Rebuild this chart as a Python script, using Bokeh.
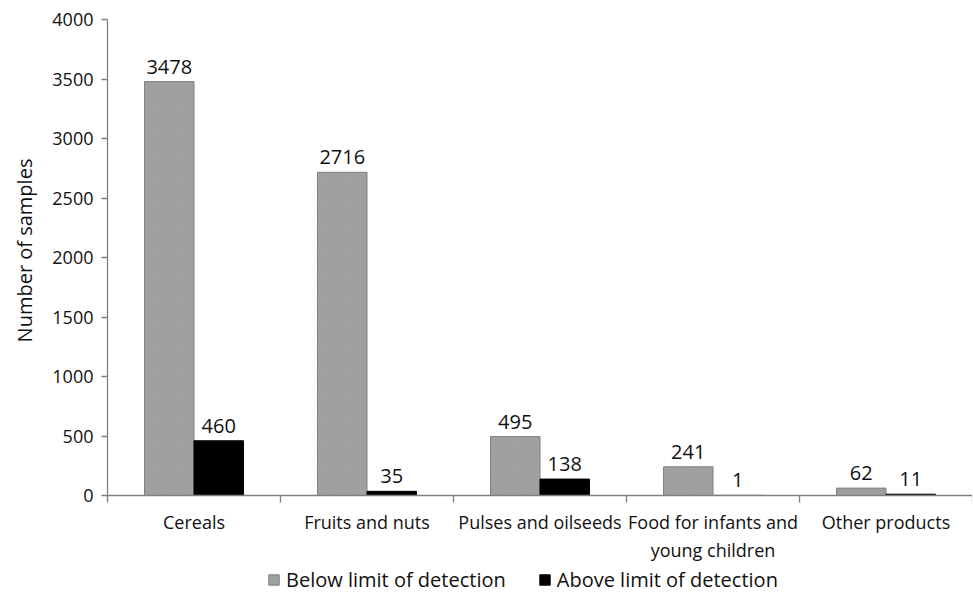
import math
from bokeh.plotting import figure
from bokeh.models import ColumnDataSource, FixedTicker, Legend, LegendItem, Range1d, Label
from bokeh.core.properties import value
from bokeh.embed import file_html
from bokeh.resources import INLINE

categories = ["Cereals", "Fruits and nuts", "Pulses and oilseeds",
              "Food for infants and\nyoung children", "Other products"]
below_lod = [3478, 2716, 495, 241, 62]
above_lod = [460, 35, 138, 1, 11]
series_names = ["Below limit of detection", "Above limit of detection"]
y_ticks = [0, 500, 1000, 1500, 2000, 2500, 3000, 3500, 4000]
y_title = "Number of samples"

FONT = "Open Sans"
W = 0.286
Y_MAX = 4000
N = len(categories)

# layout geometry (pixels)
FIG_W, FIG_H = 972, 593
TOP = 19                           # page y of the value Y_MAX
ZERO_X = 107                       # page x of the category start
ZERO_PX = 495                      # page y of the value 0
px_per_unit_y = (ZERO_PX - TOP) / Y_MAX
y_min = -(FIG_H - ZERO_PX) / px_per_unit_y
y_top = Y_MAX + TOP / px_per_unit_y
px_per_cat = (FIG_W - ZERO_X) / N
x_min = -ZERO_X / px_per_cat

centers = [i + 0.5 for i in range(N)]
src_below = ColumnDataSource(dict(x=[c - W / 2 for c in centers], top=below_lod,
                                  lab=[str(v) for v in below_lod]))
src_above = ColumnDataSource(dict(x=[c + W / 2 for c in centers], top=above_lod,
                                  lab=[str(v) for v in above_lod]))

p = figure(width=FIG_W, height=FIG_H, output_backend="svg", toolbar_location=None,
           x_range=Range1d(x_min, N), y_range=Range1d(y_min, y_top),
           min_border_left=0, min_border_right=0, min_border_top=0,
           min_border_bottom=0)
p.outline_line_color = None
p.xgrid.grid_line_color = None
p.ygrid.grid_line_color = None
p.background_fill_color = "white"
p.border_fill_color = "white"

r1 = p.vbar(x="x", top="top", width=W, bottom=0, source=src_below,
            fill_color="#a6a6a6", line_color="#808080", line_width=1,
            hatch_pattern="\\", hatch_color="#999999", hatch_scale=3, hatch_weight=0.8)
r2 = p.vbar(x="x", top="top", width=W, bottom=0, source=src_above,
            fill_color="#000000", line_color="#000000", line_width=1)

for src in (src_below, src_above):
    p.text(x="x", y="top", text="lab", source=src, text_align="center",
           text_baseline="bottom", y_offset=-8, text_font=value(FONT),
           text_font_size="20px", text_color="#111111")

# x axis drawn at value 0
ax = p.xaxis[0]
ax.fixed_location = 0
ax.bounds = (0, N)
ax.ticker = FixedTicker(ticks=centers, minor_ticks=list(range(N + 1)))
ax.major_label_overrides = {c: lab for c, lab in zip(centers, categories)}
ax.major_tick_line_color = None
ax.major_tick_out = 0
ax.major_tick_in = 0
ax.minor_tick_out = 7
ax.minor_tick_in = 0
ax.minor_tick_line_color = "#808080"
ax.minor_tick_line_width = 1.3
ax.axis_line_color = "#808080"
ax.axis_line_width = 1.3
ax.major_label_text_font = FONT
ax.major_label_text_font_size = "18px"
ax.major_label_text_color = "#111111"
ax.major_label_standoff = 7

# y axis drawn at category start
ay = p.yaxis[0]
ay.fixed_location = 0
ay.bounds = (0, Y_MAX)
ay.ticker = FixedTicker(ticks=y_ticks)
ay.minor_tick_line_color = None
ay.major_tick_out = 6
ay.major_tick_in = 0
ay.major_tick_line_color = "#808080"
ay.major_tick_line_width = 1.3
ay.axis_line_color = "#808080"
ay.axis_line_width = 1.3
ay.major_label_text_font = FONT
ay.major_label_text_font_size = "18px"
ay.major_label_text_color = "#111111"
ay.major_label_standoff = 8

# y axis title
ytitle = Label(text=y_title, x=24, y=FIG_H - 250, x_units="screen", y_units="screen",
               angle=math.pi / 2, text_align="center", text_baseline="middle",
               text_font=FONT, text_font_size="20px", text_color="#111111")
p.add_layout(ytitle)

legend = Legend(items=[LegendItem(label=series_names[0], renderers=[r1]),
                       LegendItem(label=series_names[1], renderers=[r2])],
                orientation="horizontal", location=(267, 0),
                label_text_font=FONT, label_text_font_size="20px",
                label_text_color="#111111", background_fill_alpha=0,
                glyph_width=13, glyph_height=13, label_height=22,
                spacing=32, padding=0, margin=0,
                border_line_color=None, label_standoff=6)
p.add_layout(legend, "center")

open("out.html", "w").write(file_html(p, INLINE))
